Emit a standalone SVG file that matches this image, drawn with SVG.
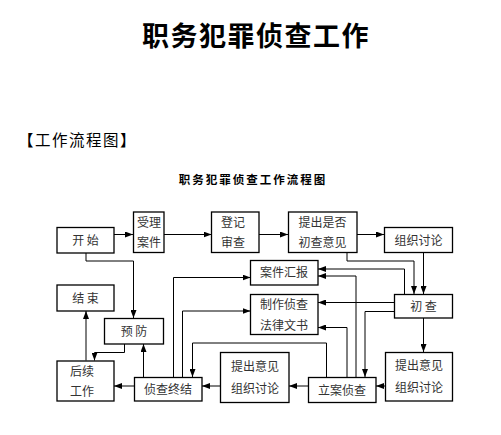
<svg xmlns="http://www.w3.org/2000/svg" width="501" height="435" viewBox="0 0 501 435">
<style>
.b{fill:#fff;stroke:#000;stroke-width:1.3}
.t{font-family:"Noto Sans CJK SC","Noto Sans CJK JP",sans-serif;font-size:12px;fill:#333;text-anchor:middle}
.c{fill:none;stroke:#000;stroke-width:1}
</style>
<defs>
<marker id="a" viewBox="0 0 8 6" refX="8" refY="3" markerWidth="8" markerHeight="6" markerUnits="userSpaceOnUse" orient="auto">
<path d="M0,0 L8,3 L0,6 z" fill="#000"/>
</marker>
</defs>
<rect width="501" height="435" fill="#fff"/>
<text x="256" y="46" font-family="Noto Sans CJK SC,sans-serif" font-size="27" font-weight="bold" text-anchor="middle" letter-spacing="1.5">职务犯罪侦查工作</text>
<text x="18" y="146" font-family="Noto Sans CJK SC,sans-serif" font-size="15.5" letter-spacing="1.5">【工作流程图】</text>
<text x="253" y="184" font-family="Noto Sans CJK SC,sans-serif" font-size="11.5" font-weight="bold" text-anchor="middle" letter-spacing="2">职务犯罪侦查工作流程图</text>

<g id="connectors" class="c">
<path d="M114,234.5 H133" marker-end="url(#a)"/>
<path d="M164,234.5 H211.5" marker-end="url(#a)"/>
<path d="M259,234.5 H288" marker-end="url(#a)"/>
<path d="M357,234.5 H384" marker-end="url(#a)"/>
<path d="M86,253 V261 H133.5 V318" marker-end="url(#a)"/>
<path d="M347,252.5 V261 H414 V294" marker-end="url(#a)"/>
<path d="M423.5,252.5 V294" marker-end="url(#a)"/>
<path d="M404.5,294 V269 H318" marker-end="url(#a)"/>
<path d="M394,302.5 H318" marker-end="url(#a)"/>
<path d="M394,311.5 H365 V377" marker-end="url(#a)"/>
<path d="M423.5,318 V352" marker-end="url(#a)"/>
<path d="M385.5,386 H376" marker-end="url(#a)"/>
<path d="M308,386 H289" marker-end="url(#a)"/>
<path d="M356,377 V276 H318" marker-end="url(#a)"/>
<path d="M347,377 V327.5 H318" marker-end="url(#a)"/>
<path d="M326.5,377 V343 H192.5 V377" marker-end="url(#a)"/>
<path d="M220,386 H202" marker-end="url(#a)"/>
<path d="M134,386 H114" marker-end="url(#a)"/>
<path d="M173.5,377 V277.5 H250.5" marker-end="url(#a)"/>
<path d="M182.5,377 V311 H250.5" marker-end="url(#a)"/>
<path d="M143.5,377 V344" marker-end="url(#a)"/>
<path d="M124.5,344 V352.5 H94.5 V360.5" marker-end="url(#a)"/>
<path d="M86,360.5 V311" marker-end="url(#a)"/>
</g>

<g id="start"><rect class="b" x="57" y="227.5" width="57" height="25.5"/><text class="t" x="85.5" y="244.5">开 始</text></g>
<g id="accept"><rect class="b" x="133.5" y="212" width="30.5" height="40.5"/><text class="t" x="149" y="227">受理</text><text class="t" x="149" y="247">案件</text></g>
<g id="register"><rect class="b" x="211.5" y="212" width="47.5" height="40.5"/><text class="t" x="233" y="227">登记</text><text class="t" x="233" y="247">审查</text></g>
<g id="propose"><rect class="b" x="288.5" y="212" width="68.5" height="40.5"/><text class="t" x="322.5" y="227">提出是否</text><text class="t" x="322.5" y="247">初查意见</text></g>
<g id="discuss1"><rect class="b" x="384.5" y="227.5" width="68" height="25"/><text class="t" x="418.5" y="244.5">组织讨论</text></g>
<g id="report"><rect class="b" x="250.5" y="260.5" width="67.5" height="24.5"/><text class="t" x="284" y="277">案件汇报</text></g>
<g id="docs"><rect class="b" x="250.5" y="294.5" width="67.5" height="40"/><text class="t" x="284" y="309">制作侦查</text><text class="t" x="284" y="329.5">法律文书</text></g>
<g id="precheck"><rect class="b" x="394.5" y="294.5" width="58" height="23.5"/><text class="t" x="423.5" y="310.5">初 查</text></g>
<g id="end"><rect class="b" x="57" y="285" width="57" height="26"/><text class="t" x="85.5" y="302.5">结 束</text></g>
<g id="prevent"><rect class="b" x="104.5" y="318.5" width="59" height="25.5"/><text class="t" x="134" y="335.5">预 防</text></g>
<g id="follow"><rect class="b" x="57" y="361" width="57" height="40"/><text class="t" x="82" y="375.5">后续</text><text class="t" x="82" y="396">工作</text></g>
<g id="conclude"><rect class="b" x="134.5" y="377.5" width="67.5" height="23.5"/><text class="t" x="168" y="393.5">侦查终结</text></g>
<g id="discuss2"><rect class="b" x="220.5" y="352.5" width="68.5" height="50"/><text class="t" x="255" y="371">提出意见</text><text class="t" x="255" y="392.5">组织讨论</text></g>
<g id="investigate"><rect class="b" x="308.5" y="377.5" width="67.5" height="25"/><text class="t" x="342" y="394.5">立案侦查</text></g>
<g id="discuss3"><rect class="b" x="385.5" y="352.5" width="67" height="48.5"/><text class="t" x="419" y="370">提出意见</text><text class="t" x="419" y="391.5">组织讨论</text></g>
</svg>
